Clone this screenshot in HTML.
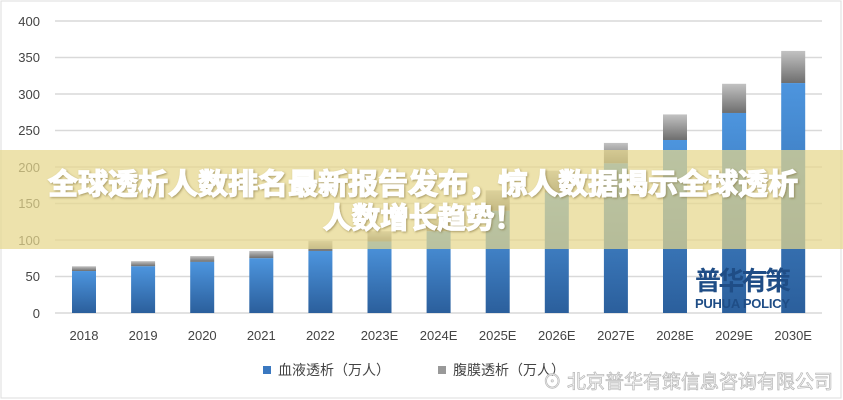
<!DOCTYPE html>
<html><head><meta charset="utf-8"><style>
body{margin:0;width:843px;height:400px;overflow:hidden;background:#fff;font-family:"Liberation Sans","Noto Sans CJK SC",sans-serif;}
</style></head><body>
<svg width="843" height="400" xmlns="http://www.w3.org/2000/svg" style="position:absolute;left:0;top:0">
<defs>
<linearGradient id="b" x1="0" y1="0" x2="0" y2="1"><stop offset="0" stop-color="#4d95de"/><stop offset="1" stop-color="#2b5f9c"/></linearGradient>
<linearGradient id="g" x1="0" y1="0" x2="0" y2="1"><stop offset="0" stop-color="#c2c2c2"/><stop offset="1" stop-color="#6e6e6e"/></linearGradient>
<filter id="sh"><feDropShadow dx="1" dy="1" stdDeviation="1" flood-color="#7a6a30" flood-opacity="0.6"/></filter>
</defs>
<rect x="1" y="1" width="840" height="397" fill="none" stroke="#ddd"/>
<g stroke="#d9d9d9" stroke-width="1.5">
<line x1="55" x2="822" y1="21" y2="21"/><line x1="55" x2="822" y1="57.5" y2="57.5"/><line x1="55" x2="822" y1="94" y2="94"/><line x1="55" x2="822" y1="130.5" y2="130.5"/><line x1="55" x2="822" y1="167" y2="167"/><line x1="55" x2="822" y1="203.5" y2="203.5"/><line x1="55" x2="822" y1="240" y2="240"/><line x1="55" x2="822" y1="276.5" y2="276.5"/><line x1="55" x2="822" y1="313" y2="313"/>
</g>
<g font-size="13" fill="#444" text-anchor="end">
<text x="40" y="26">400</text><text x="40" y="62">350</text><text x="40" y="99">300</text><text x="40" y="135">250</text><text x="40" y="172">200</text><text x="40" y="208">150</text><text x="40" y="245">100</text><text x="40" y="281">50</text><text x="40" y="318">0</text>
</g>
<g id="bars"></g>
<g font-size="13" fill="#444" text-anchor="middle" id="xl"></g>
<rect x="263" y="366" width="8" height="8" fill="#3a78c0"/>
<text x="278" y="375" font-size="14" fill="#444">血液透析（万人）</text>
<rect x="438" y="366" width="8" height="8" fill="#999"/>
<text x="453" y="375" font-size="14" fill="#444">腹膜透析（万人）</text>
<text x="695" y="290" font-size="26" font-weight="bold" fill="#1f4d86" textLength="96">普华有策</text>
<text x="695" y="308" font-size="13" font-weight="bold" fill="#1f4d86" textLength="95">PUHUA POLICY</text>
<rect x="0" y="150" width="843" height="99" fill="rgba(230,215,140,0.72)"/>
<g font-size="29" font-weight="bold" fill="#fff" stroke="#fff" stroke-width="1.3" filter="url(#sh)">
<text x="48" y="194" textLength="750" lengthAdjust="spacingAndGlyphs">全球透析人数排名最新报告发布，惊人数据揭示全球透析</text>
<text x="323" y="228" textLength="200" lengthAdjust="spacingAndGlyphs">人数增长趋势！</text>
</g>
<text x="833" y="388" font-size="19" fill="#fff" stroke="#bbb" stroke-width="0.8" text-anchor="end">⊙ 北京普华有策信息咨询有限公司</text>
</svg>
<script>
var d=[["2018",57.5,64],["2019",64,71],["2020",70,78],["2021",75,85],["2022",85,99],["2023E",98,112],["2024E",112,127],["2025E",140,168],["2026E",165,195],["2027E",205,233],["2028E",237,272],["2029E",274,314],["2030E",315,359]];
var s="",t="";
d.forEach(function(e,i){var cx=84+i*59.1,x=cx-12;var yb=313-e[1]*0.73,yt=313-e[2]*0.73;
s+='<rect x="'+x+'" y="'+yt+'" width="24" height="'+(yb-yt)+'" fill="url(#g)"/><rect x="'+x+'" y="'+yb+'" width="24" height="'+(313-yb)+'" fill="url(#b)"/>';
t+='<text x="'+cx+'" y="340">'+e[0]+'</text>';});
document.getElementById("bars").innerHTML=s;document.getElementById("xl").innerHTML=t;
</script>
</body></html>
